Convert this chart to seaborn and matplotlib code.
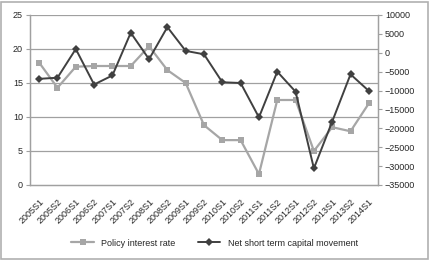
import matplotlib
matplotlib.use("Agg")
import matplotlib.pyplot as plt
import numpy as np
import pandas as pd
import seaborn as sns
from matplotlib.patches import Rectangle

sns.set_style("white")
plt.rcParams['font.family'] = ['Liberation Sans', 'DejaVu Sans']

# half-year periods
periods = ["2005S1", "2005S2", "2006S1", "2006S2", "2007S1", "2007S2",
           "2008S1", "2008S2", "2009S1", "2009S2", "2010S1", "2010S2",
           "2011S1", "2011S2", "2012S1", "2012S2", "2013S1", "2013S2", "2014S1"]

# left axis
policy_rate = [18.0, 14.3, 17.4, 17.5, 17.5, 17.5, 20.4, 16.9, 15.0, 8.8,
               6.6, 6.6, 1.6, 12.5, 12.5, 5.0, 8.5, 7.9, 12.0]

# right axis
capital_movement = [-6900, -6600, 1000, -8400, -6000, 5300, -1700, 6800, 500, -400,
                    -7800, -8000, -17100, -5000, -10300, -30600, -18200, -5700, -10100]

df = pd.DataFrame({"period": periods, "policy": policy_rate, "capital": capital_movement})
x = np.arange(len(periods))

light = "#a6a6a6"
dark = "#404040"
grid_c = "#a0a0a0"

fig = plt.figure(figsize=(4.29, 2.60), dpi=100)
ax = fig.add_axes([30 / 429, 1 - 185 / 260, 348 / 429, 170 / 260])
ax2 = ax.twinx()

sns.lineplot(x=x, y=df["policy"], ax=ax, color=light, marker="s", markersize=5,
             markeredgewidth=0, linewidth=1.6, label="Policy interest rate", legend=False)
sns.lineplot(x=x, y=df["capital"], ax=ax2, color=dark, marker="D", markersize=4,
             markeredgewidth=0, linewidth=1.4, label="Net short term capital movement", legend=False)

ax.set_xlim(-0.5, len(periods) - 0.5)
ax.set_ylim(0, 25)
ax.set_yticks(range(0, 26, 5))
ax2.set_ylim(-35000, 10000)
ax2.set_yticks(range(-35000, 10001, 5000))

for v in range(5, 26, 5):
    ax.axhline(v, color=grid_c, linewidth=0.9, zorder=0)

ax.set_xticks(x)
ax.set_xticklabels(periods, rotation=45, ha="right", rotation_mode="anchor", fontsize=6.5)
ax.set_xticks(np.arange(-0.5, len(periods)), minor=True)
ax.tick_params(axis="x", which="major", length=0, pad=9)
ax.tick_params(axis="x", which="minor", length=3, color=grid_c, direction="out")
ax.tick_params(axis="y", labelsize=6.5, length=3, color=grid_c, pad=2)
ax2.tick_params(axis="y", labelsize=6.5, length=3, color=grid_c, pad=2)
ax.set_xlabel("")
ax.set_ylabel("")
ax2.set_ylabel("")

for a in (ax, ax2):
    a.spines["top"].set_visible(False)
    for s in ("left", "right", "bottom"):
        a.spines[s].set_color(grid_c)
        a.spines[s].set_linewidth(0.9)
ax.patch.set_visible(False)
ax2.set_zorder(ax.get_zorder() + 1)

h1, l1 = ax.get_legend_handles_labels()
h2, l2 = ax2.get_legend_handles_labels()
fig.legend(h1 + h2, l1 + l2, loc="center", bbox_to_anchor=(0.5, 1 - 243 / 260),
           ncol=2, frameon=False, fontsize=6.5, handlelength=2.5, columnspacing=2.5,
           bbox_transform=fig.transFigure)

fig.patches.append(Rectangle((0.002, 0.004), 0.996, 0.99, transform=fig.transFigure,
                             fill=False, edgecolor="#b0b0b0", linewidth=1.2))

fig.savefig("out.png", dpi=100)
